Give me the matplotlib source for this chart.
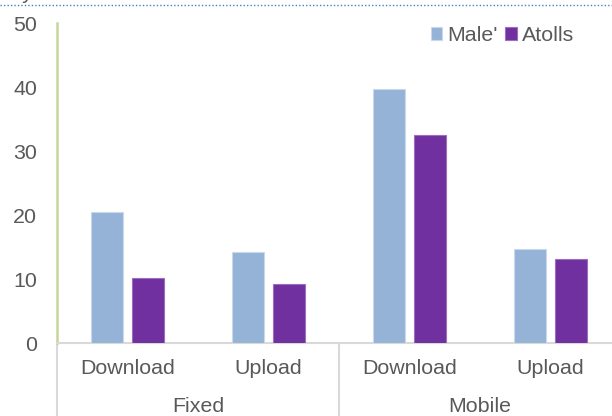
import matplotlib
matplotlib.use("Agg")
import matplotlib.pyplot as plt
from matplotlib.lines import Line2D
from matplotlib.transforms import blended_transform_factory
import numpy as np

# Data
groups = ["Fixed", "Mobile"]
directions = ["Download", "Upload", "Download", "Upload"]
series_names = ["Male'", "Atolls"]
male = [20.5, 14.2, 39.7, 14.8]
atolls = [10.2, 9.2, 32.5, 13.1]
yticks = [0, 10, 20, 30, 40, 50]

male_color = "#95B3D7"
atolls_color = "#7030A0"
text_color = "#595959"
font = "Liberation Sans"
fs = 15.4

W, H = 612, 416
fig = plt.figure(figsize=(W / 100, H / 100), dpi=100)

# Axes area in pixels: x from 57 to 621 (runs past right edge), y0 at 343.3, y50 at 23.3
left_px, right_px = 57, 621
top_px, bottom_px = 23.3, 343.3
ax = fig.add_axes([left_px / W, 1 - bottom_px / H,
                   (right_px - left_px) / W, (bottom_px - top_px) / H])

x = np.arange(len(directions))
bw = 0.227
off = 0.142
ax.bar(x - off, male, bw, color=male_color, edgecolor="#C9D8EB", linewidth=0.8,
       label=series_names[0], zorder=3)
ax.bar(x + off, atolls, bw, color=atolls_color, edgecolor="#9A70BE", linewidth=0.8,
       label=series_names[1], zorder=3)

ax.set_xlim(-0.5, len(directions) - 0.5)
ax.set_ylim(0, 50)
ax.set_yticks(yticks)
ax.set_yticklabels([str(v) for v in yticks], fontsize=fs, color=text_color, family=font)
ax.tick_params(axis="y", length=0, pad=14.4)
ax.set_xticks([])

for side in ["top", "right"]:
    ax.spines[side].set_visible(False)
ax.spines["left"].set_color("#C4D79B")
ax.spines["left"].set_linewidth(1.8)
ax.spines["bottom"].set_color("#D9D9D9")
ax.spines["bottom"].set_linewidth(1.5)

# Category labels below the axis
tr = blended_transform_factory(ax.transData, fig.transFigure)
for xi, lab in zip(x, directions):
    ax.text(xi, 1 - 368 / H, lab, transform=tr, ha="center", va="center",
            fontsize=fs, color=text_color, family=font, clip_on=False)
for gi, g in enumerate(groups):
    ax.text(0.5 + 2 * gi, 1 - 407 / H, g, transform=tr, ha="center", va="center",
            fontsize=fs, color=text_color, family=font, clip_on=False)

# Group divider lines
for xd in [-0.5, 1.5, 3.5]:
    ax.add_line(Line2D([xd, xd], [1 - 344 / H, 0], transform=tr,
                       color="#D9D9D9", linewidth=1.5, clip_on=False))

# Legend
leg = ax.legend(loc="upper left", bbox_to_anchor=(431 / W, 1 - 26 / H),
                bbox_transform=fig.transFigure, ncol=2, frameon=False,
                handlelength=0.52, handleheight=0.52, handletextpad=0.25,
                columnspacing=0.35, borderaxespad=0, borderpad=0,
                prop={"family": font, "size": fs})
for t in leg.get_texts():
    t.set_color(text_color)

# Dotted border along the top
fig.add_artist(Line2D([0, 1], [1 - 4.5 / H, 1 - 4.5 / H], transform=fig.transFigure,
                      color="#4A7EC0", linewidth=1.0, linestyle=(0, (1, 1.5))))
fig.text(22 / W, 1 + 1 / H, "y", fontsize=fs, color=text_color, family=font,
         ha="left", va="baseline")

fig.savefig("out.png", dpi=100)
